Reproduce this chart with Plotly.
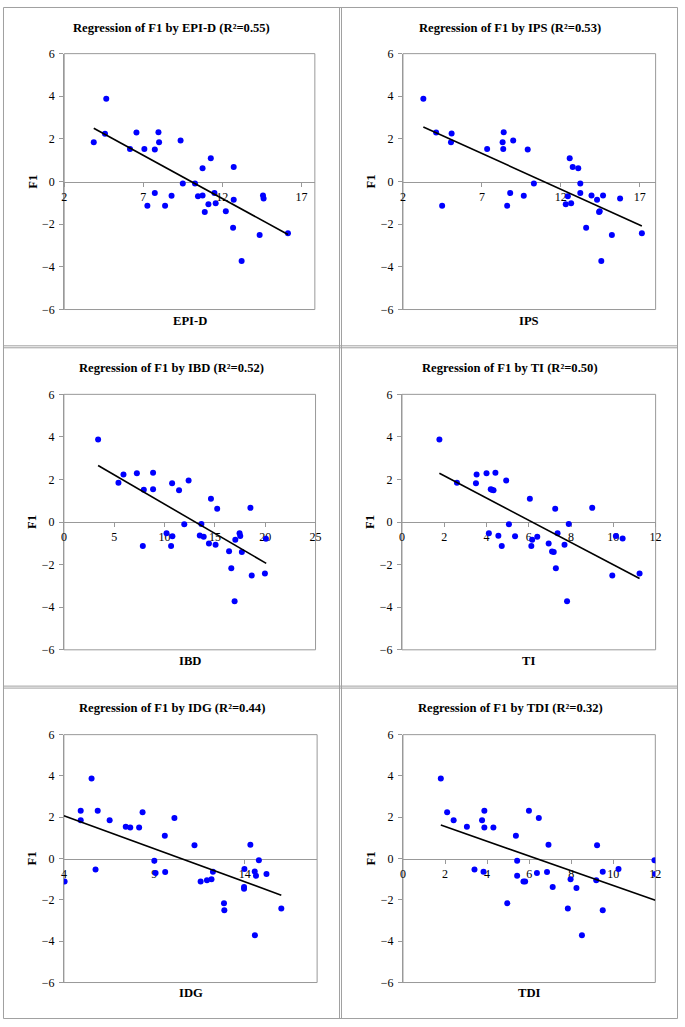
import plotly.graph_objects as go

W, H = 685, 1027

# ---------------- data ----------------
epid_x = [3.87, 4.66, 4.58, 6.16, 6.57, 7.07, 7.73, 7.96, 8.00, 9.36, 7.73, 7.26, 8.38,
          8.79, 9.50, 10.27, 10.46, 10.75, 10.75, 11.27, 10.89, 11.12, 11.50, 11.58,
          12.22, 12.72, 12.72, 12.68, 13.22, 14.36, 14.57, 14.61, 16.15]
epid_f1 = [1.85, 3.89, 2.24, 1.53, 2.30, 1.53, 1.50, 2.31, 1.84, 1.93, -0.54, -1.13, -1.13,
           -0.66, -0.09, -0.09, -0.69, -0.65, 0.63, 1.10, -1.43, -1.06, -0.54, -1.02,
           -1.39, 0.68, -0.85, -2.17, -3.72, -2.51, -0.65, -0.79, -2.42]
epid_trend_x = [3.87, 16.15]
epid_trend_y = [2.50, -2.48]

ips_x = [3.29, 4.10, 4.48, 5.08, 5.04, 7.33, 8.38, 8.31, 8.35, 8.98, 9.90, 8.79, 8.60,
         9.65, 10.29, 12.31, 12.44, 12.56, 12.65, 12.75, 13.10, 13.23, 13.23, 13.60,
         13.94, 14.29, 14.42, 14.46, 14.67, 14.56, 15.23, 15.75, 17.13]
ips_f1 = [3.89, 2.30, -1.13, 2.25, 1.85, 1.53, 2.31, 1.84, 1.53, 1.93, 1.50, -0.54, -1.13,
          -0.66, -0.09, -1.06, -0.69, 1.10, -1.02, 0.68, 0.63, -0.09, -0.54, -2.17,
          -0.65, -0.85, -1.43, -1.39, -0.65, -3.72, -2.51, -0.79, -2.42]
ips_trend_x = [3.29, 17.13]
ips_trend_y = [2.56, -2.08]

ibd_x = [3.40, 5.42, 5.92, 7.25, 7.94, 7.84, 8.86, 8.86, 10.20, 10.75, 10.78, 10.65,
         11.44, 11.96, 12.39, 13.50, 13.66, 13.89, 14.41, 14.61, 15.07, 15.23, 16.41,
         16.63, 17.03, 16.96, 17.45, 17.52, 17.68, 18.53, 18.66, 19.97, 20.07]
ibd_f1 = [3.88, 1.85, 2.23, 2.29, 1.52, -1.12, 2.32, 1.54, -0.52, 1.83, -0.67, -1.12,
          1.49, -0.10, 1.95, -0.63, -0.09, -0.69, -1.01, 1.10, -1.06, 0.63, -1.37,
          -2.17, -0.83, -3.72, -0.53, -0.65, -1.41, 0.67, -2.51, -2.42, -0.78]
ibd_trend_x = [3.40, 20.10]
ibd_trend_y = [2.66, -1.94]

ti_x = [1.77, 2.60, 3.50, 3.53, 4.00, 4.11, 4.20, 4.25, 4.33, 4.42, 4.56, 4.72, 4.93,
        5.06, 5.35, 6.05, 6.12, 6.16, 6.40, 6.94, 7.10, 7.18, 7.25, 7.28, 7.36, 7.69,
        7.81, 7.89, 9.00, 9.95, 10.12, 10.44, 11.24]
ti_f1 = [3.88, 1.85, 1.83, 2.23, 2.29, -0.52, 1.54, 1.52, 1.49, 2.32, -0.64, -1.12, 1.95,
         -0.10, -0.67, 1.10, -1.12, -0.83, -0.69, -1.01, -1.38, -1.41, 0.63, -2.17,
         -0.53, -1.06, -3.72, -0.09, 0.67, -2.51, -0.65, -0.77, -2.42]
ti_trend_x = [1.77, 11.24]
ti_trend_y = [2.29, -2.65]

idg_x = [4.04, 4.93, 4.93, 5.53, 5.75, 5.87, 6.53, 7.42, 7.67, 8.16, 8.35, 9.00, 9.07,
         9.58, 9.60, 10.11, 11.22, 11.56, 11.91, 12.16, 12.24, 12.85, 12.87, 13.96,
         13.98, 13.96, 14.31, 14.55, 14.62, 14.56, 14.78, 15.20, 16.02]
idg_f1 = [-1.11, 1.86, 2.31, 3.88, -0.53, 2.32, 1.85, 1.54, 1.50, 1.51, 2.24, -0.10, -0.70,
          1.11, -0.65, 1.96, 0.64, -1.11, -1.05, -1.00, -0.64, -2.16, -2.50, -1.37,
          -0.51, -1.46, 0.67, -0.62, -0.83, -3.71, -0.08, -0.75, -2.42]
idg_trend_x = [4.00, 16.02]
idg_trend_y = [2.07, -1.77]

tdi_x = [1.80, 2.10, 2.41, 3.04, 3.40, 3.76, 3.87, 3.87, 3.83, 4.30, 4.96, 5.37, 5.43,
         5.43, 5.73, 5.81, 5.99, 6.37, 6.46, 6.85, 6.92, 7.12, 7.84, 7.97, 8.25, 8.51,
         9.19, 9.23, 9.50, 9.50, 10.25, 11.96, 12.00]
tdi_f1 = [3.88, 2.24, 1.85, 1.54, -0.53, 1.85, 2.32, 1.50, -0.64, 1.51, -2.16, 1.11, -0.10,
          -0.83, -1.11, -1.11, 2.31, -0.70, 1.96, -0.65, 0.67, -1.37, -2.42, -1.00,
          -1.43, -3.71, -1.05, 0.64, -0.64, -2.50, -0.51, -0.08, -0.75]
tdi_trend_x = [1.80, 12.00]
tdi_trend_y = [1.62, -2.02]

y_ticks = [-6, -4, -2, 0, 2, 4, 6]

# ---------------- layout geometry (pixels) ----------------
panels = [
    dict(title="Regression of F1 by EPI-D (R²=0.55)", xlabel="EPI-D", x=epid_x, y=epid_f1,
         tx=epid_trend_x, ty=epid_trend_y, xr=[2, 17.85], t0=2, dt=5,
         px=(62, 316), py=(47.3, 306.7), cx=171, ty_title=21, ty_xl=318.5),
    dict(title="Regression of F1 by IPS (R²=0.53)", xlabel="IPS", x=ips_x, y=ips_f1,
         tx=ips_trend_x, ty=ips_trend_y, xr=[2, 18], t0=2, dt=5,
         px=(405.3, 661.3), py=(47.3, 306.7), cx=514, ty_title=21, ty_xl=318.5),
    dict(title="Regression of F1 by IBD (R²=0.52)", xlabel="IBD", x=ibd_x, y=ibd_f1,
         tx=ibd_trend_x, ty=ibd_trend_y, xr=[0, 25], t0=0, dt=5,
         px=(61.7, 316.7), py=(392.7, 651.7), cx=171, ty_title=366, ty_xl=663),
    dict(title="Regression of F1 by TI (R²=0.50)", xlabel="TI", x=ti_x, y=ti_f1,
         tx=ti_trend_x, ty=ti_trend_y, xr=[0, 12], t0=0, dt=2,
         px=(404.3, 661.3), py=(392.7, 651.7), cx=514, ty_title=366, ty_xl=663),
    dict(title="Regression of F1 by IDG (R²=0.44)", xlabel="IDG", x=idg_x, y=idg_f1,
         tx=idg_trend_x, ty=idg_trend_y, xr=[4, 18], t0=4, dt=5,
         px=(61.7, 318.3), py=(737.7, 989), cx=171, ty_title=711, ty_xl=1000),
    dict(title="Regression of F1 by TDI (R²=0.32)", xlabel="TDI", x=tdi_x, y=tdi_f1,
         tx=tdi_trend_x, ty=tdi_trend_y, xr=[0, 12], t0=0, dt=2,
         px=(405.3, 661), py=(737.7, 989), cx=514, ty_title=711, ty_xl=1000),
]

FONT = "Liberation Serif"
GRAY = "#a0a0a0"
AX = "#999999"
TITLE_SIZE = 12.6
TICK_SIZE = 12


def fx(p):
    return p / W


def fy(p):
    return 1 - p / H


def ax_id(letter, n):
    return letter if n == 1 else f"{letter}{n}"


fig = go.Figure()
layout = dict(width=W, height=H, margin=dict(l=0, r=0, t=0, b=0),
              paper_bgcolor="white", plot_bgcolor="white", showlegend=False,
              font=dict(family=FONT, size=12, color="black"))
annotations = []
shapes = []

for i, p in enumerate(panels, start=1):
    xs = ax_id("x", i)
    ys = ax_id("y", i)
    xdom = [fx(p["px"][0]), fx(p["px"][1])]
    ydom = [fy(p["py"][1]), fy(p["py"][0])]
    mid = (ydom[0] + ydom[1]) / 2

    fig.add_trace(go.Scatter(x=p["x"], y=p["y"], mode="markers", xaxis=xs, yaxis=ys,
                             marker=dict(color="#0000FF", size=6, line=dict(width=0)),
                             hoverinfo="skip"))
    fig.add_trace(go.Scatter(x=p["tx"], y=p["ty"], mode="lines", xaxis=xs, yaxis=ys,
                             line=dict(color="black", width=1.6), hoverinfo="skip"))

    layout["xaxis" + ("" if i == 1 else str(i))] = dict(
        domain=xdom, range=p["xr"], anchor="free", position=mid,
        tick0=p["t0"], dtick=p["dt"], showgrid=False, zeroline=False,
        showline=True, linecolor=AX, linewidth=1,
        ticks="outside", ticklen=4, tickcolor=AX,
        tickfont=dict(family=FONT, size=TICK_SIZE, color="black"),
        layer="below traces", fixedrange=True)
    layout[f"xaxis{i + 6}"] = dict(
        domain=xdom, range=p["xr"], overlaying=xs, anchor="free",
        position=mid, tick0=p["t0"], dtick=p["dt"],
        showgrid=False, zeroline=False, showline=False,
        ticks="inside", ticklen=4, tickcolor=AX,
        showticklabels=False, layer="below traces")
    layout["yaxis" + ("" if i == 1 else str(i))] = dict(
        domain=ydom, range=[-6, 6], anchor=xs, tickvals=y_ticks,
        showgrid=False, zeroline=False, showline=True, linecolor=AX,
        linewidth=1, ticks="outside", ticklen=4, tickcolor=AX,
        tickfont=dict(family=FONT, size=TICK_SIZE, color="black"),
        ticklabelstandoff=2, layer="below traces", fixedrange=True)

    shapes.append(dict(type="rect", xref=f"{xs} domain", yref=f"{ys} domain",
                       x0=0, x1=1, y0=0, y1=1, line=dict(color=AX, width=1), layer="below"))

    annotations.append(dict(text=f"<b>{p['title']}</b>", x=fx(p["cx"]), y=fy(p["ty_title"]),
                            xref="paper", yref="paper", showarrow=False,
                            xanchor="center", yanchor="middle",
                            font=dict(family=FONT, size=TITLE_SIZE, color="black")))
    annotations.append(dict(text=f"<b>{p['xlabel']}</b>",
                            x=fx((p["px"][0] + p["px"][1]) / 2), y=fy(p["ty_xl"]),
                            xref="paper", yref="paper", showarrow=False,
                            xanchor="center", yanchor="middle",
                            font=dict(family=FONT, size=TITLE_SIZE, color="black")))
    annotations.append(dict(text="<b>F1</b>", x=fx(p["px"][0] - 32.5),
                            y=fy((p["py"][0] + p["py"][1]) / 2),
                            xref="paper", yref="paper", showarrow=False, textangle=-90,
                            xanchor="center", yanchor="middle",
                            font=dict(family=FONT, size=TITLE_SIZE, color="black")))

# panel frames
for xp in (341, 343):
    shapes.append(dict(type="line", xref="paper", yref="paper", x0=fx(xp), x1=fx(xp),
                       y0=fy(0.5), y1=fy(1025.5), line=dict(color=GRAY, width=1)))
for yp in (343.5, 345.5, 688.5, 690.5):
    shapes.append(dict(type="line", xref="paper", yref="paper", x0=fx(0.5), x1=fx(683.5),
                       y0=fy(yp), y1=fy(yp), line=dict(color=GRAY, width=1)))
shapes.append(dict(type="rect", xref="paper", yref="paper", x0=fx(0.5), x1=fx(683.5),
                   y0=fy(1025.5), y1=fy(0.5), line=dict(color=GRAY, width=1)))

layout["annotations"] = annotations
layout["shapes"] = shapes
fig.update_layout(**layout)

PAGE_FIX = (
    "var s=document.createElement('style');"
    "s.textContent='html,body{margin:0!important;padding:0!important;overflow:hidden;}"
    ".plotly-graph-div{display:block;margin:0;}';"
    "document.head.appendChild(s);"
    "window.scrollTo(0,0);"
)
fig.write_html("out.html", config={"displayModeBar": False}, post_script=PAGE_FIX)
